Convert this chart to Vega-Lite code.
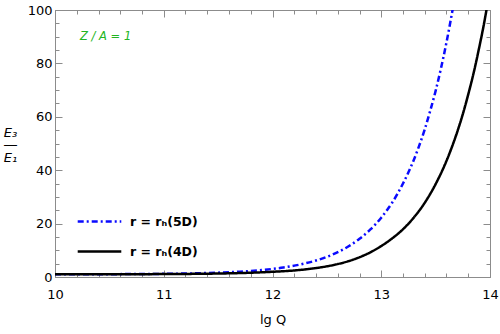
{
  "$schema": "https://vega.github.io/schema/vega-lite/v6.json",
  "width": 435,
  "height": 267,
  "autosize": {"type": "none"},
  "padding": {"left": 55, "top": 10, "right": 10, "bottom": 57},
  "config": {
    "font": "DejaVu Sans",
    "view": {"stroke": "#8c8c8c", "strokeWidth": 1},
    "axis": {"grid": false, "domainColor": "#8c8c8c", "tickColor": "#8c8c8c", "labelColor": "#000000", "labelFontSize": 13, "labelFont": "DejaVu Sans", "titleFont": "DejaVu Sans", "titleFontSize": 13, "titleFontWeight": "normal", "titleColor": "#000000", "labelFlush": false, "labelOverlap": false}
  },
  "datasets": {
    "curves": [
      {"q": 10.0, "r": 1.02, "s": "r = rₕ(5D)"},
      {"q": 10.5, "r": 1.06, "s": "r = rₕ(5D)"},
      {"q": 11.0, "r": 1.19, "s": "r = rₕ(5D)"},
      {"q": 11.3, "r": 1.39, "s": "r = rₕ(5D)"},
      {"q": 11.5, "r": 1.63, "s": "r = rₕ(5D)"},
      {"q": 11.7, "r": 2.0, "s": "r = rₕ(5D)"},
      {"q": 11.9, "r": 2.6, "s": "r = rₕ(5D)"},
      {"q": 12.1, "r": 3.56, "s": "r = rₕ(5D)"},
      {"q": 12.3, "r": 5.1, "s": "r = rₕ(5D)"},
      {"q": 12.5, "r": 7.55, "s": "r = rₕ(5D)"},
      {"q": 12.7, "r": 11.5, "s": "r = rₕ(5D)"},
      {"q": 12.8, "r": 14.3, "s": "r = rₕ(5D)"},
      {"q": 12.9, "r": 17.8, "s": "r = rₕ(5D)"},
      {"q": 13.0, "r": 22.2, "s": "r = rₕ(5D)"},
      {"q": 13.05, "r": 24.9, "s": "r = rₕ(5D)"},
      {"q": 13.1, "r": 27.8, "s": "r = rₕ(5D)"},
      {"q": 13.15, "r": 31.2, "s": "r = rₕ(5D)"},
      {"q": 13.2, "r": 35.0, "s": "r = rₕ(5D)"},
      {"q": 13.25, "r": 39.2, "s": "r = rₕ(5D)"},
      {"q": 13.3, "r": 43.9, "s": "r = rₕ(5D)"},
      {"q": 13.35, "r": 49.3, "s": "r = rₕ(5D)"},
      {"q": 13.4, "r": 55.3, "s": "r = rₕ(5D)"},
      {"q": 13.45, "r": 62.2, "s": "r = rₕ(5D)"},
      {"q": 13.5, "r": 69.7, "s": "r = rₕ(5D)"},
      {"q": 13.55, "r": 78.3, "s": "r = rₕ(5D)"},
      {"q": 13.6, "r": 87.9, "s": "r = rₕ(5D)"},
      {"q": 13.63, "r": 94.3, "s": "r = rₕ(5D)"},
      {"q": 13.66, "r": 101, "s": "r = rₕ(5D)"},
      {"q": 10.0, "r": 1.01, "s": "r = rₕ(4D)"},
      {"q": 10.5, "r": 1.03, "s": "r = rₕ(4D)"},
      {"q": 11.0, "r": 1.1, "s": "r = rₕ(4D)"},
      {"q": 11.5, "r": 1.3, "s": "r = rₕ(4D)"},
      {"q": 11.8, "r": 1.6, "s": "r = rₕ(4D)"},
      {"q": 12.0, "r": 1.95, "s": "r = rₕ(4D)"},
      {"q": 12.2, "r": 2.45, "s": "r = rₕ(4D)"},
      {"q": 12.3, "r": 2.85, "s": "r = rₕ(4D)"},
      {"q": 12.4, "r": 3.35, "s": "r = rₕ(4D)"},
      {"q": 12.5, "r": 4.0, "s": "r = rₕ(4D)"},
      {"q": 12.6, "r": 4.85, "s": "r = rₕ(4D)"},
      {"q": 12.7, "r": 5.95, "s": "r = rₕ(4D)"},
      {"q": 12.8, "r": 7.4, "s": "r = rₕ(4D)"},
      {"q": 12.9, "r": 9.25, "s": "r = rₕ(4D)"},
      {"q": 13.0, "r": 11.6, "s": "r = rₕ(4D)"},
      {"q": 13.1, "r": 14.45, "s": "r = rₕ(4D)"},
      {"q": 13.2, "r": 17.9, "s": "r = rₕ(4D)"},
      {"q": 13.3, "r": 22.3, "s": "r = rₕ(4D)"},
      {"q": 13.4, "r": 27.8, "s": "r = rₕ(4D)"},
      {"q": 13.5, "r": 34.8, "s": "r = rₕ(4D)"},
      {"q": 13.6, "r": 43.5, "s": "r = rₕ(4D)"},
      {"q": 13.65, "r": 48.7, "s": "r = rₕ(4D)"},
      {"q": 13.7, "r": 54.5, "s": "r = rₕ(4D)"},
      {"q": 13.75, "r": 61.0, "s": "r = rₕ(4D)"},
      {"q": 13.8, "r": 68.4, "s": "r = rₕ(4D)"},
      {"q": 13.85, "r": 76.5, "s": "r = rₕ(4D)"},
      {"q": 13.9, "r": 85.8, "s": "r = rₕ(4D)"},
      {"q": 13.95, "r": 96.0, "s": "r = rₕ(4D)"},
      {"q": 13.98, "r": 103, "s": "r = rₕ(4D)"}
    ],
    "notes": [
      {"q": 10.23, "r": 90, "t": "Z / A = 1"}
    ]
  },
  "layer": [
    {
      "data": {"name": "curves"},
      "mark": {"type": "line", "clip": true, "strokeWidth": 2.5, "interpolate": "monotone"},
      "encoding": {
        "x": {
          "field": "q", "type": "quantitative",
          "scale": {"domain": [10, 14], "nice": false, "zero": false},
          "axis": {
            "orient": "bottom", "title": "lg Q", "titlePadding": 9,
            "values": [10, 10.2, 10.4, 10.6, 10.8, 11, 11.2, 11.4, 11.6, 11.8, 12, 12.2, 12.4, 12.6, 12.8, 13, 13.2, 13.4, 13.6, 13.8, 14],
            "labelExpr": "abs(datum.value - round(datum.value)) < 0.001 ? format(datum.value, 'd') : ''",
            "tickSize": {"condition": {"test": "abs(datum.value - round(datum.value)) < 0.001", "value": -7}, "value": -4},
            "labelPadding": 18
          }
        },
        "y": {
          "field": "r", "type": "quantitative",
          "scale": {"domain": [0, 100], "nice": false},
          "axis": {
            "orient": "left", "title": ["E₃", "―", "E₁"], "titleAngle": 0, "titleFontStyle": "italic",
            "titleAlign": "center", "titleBaseline": "middle", "titleX": -45, "titleY": 122, "titleLineHeight": 12.5,
            "values": [0, 5, 10, 15, 20, 25, 30, 35, 40, 45, 50, 55, 60, 65, 70, 75, 80, 85, 90, 95, 100],
            "labelExpr": "datum.value % 20 === 0 ? format(datum.value, 'd') : ''",
            "tickSize": {"condition": {"test": "datum.value % 20 === 0", "value": -7}, "value": -4},
            "labelPadding": 10
          }
        },
        "color": {
          "field": "s", "type": "nominal",
          "scale": {"domain": ["r = rₕ(5D)", "r = rₕ(4D)"], "range": ["#0a0aff", "#000000"]},
          "legend": {"title": null, "orient": "none", "legendX": 21, "legendY": 188, "symbolType": "stroke", "symbolSize": 1900, "symbolStrokeWidth": 2.5, "labelFontSize": 12.5, "labelFontWeight": "bold", "labelColor": "#000000", "labelOffset": 7, "rowPadding": -19}
        },
        "strokeDash": {
          "field": "s", "type": "nominal",
          "scale": {"domain": ["r = rₕ(5D)", "r = rₕ(4D)"], "range": [[6, 3, 2, 3], [1, 0]]},
          "legend": {"title": null, "orient": "none", "legendX": 21, "legendY": 188, "symbolType": "stroke", "symbolSize": 1900, "symbolStrokeWidth": 2.5, "labelFontSize": 12.5, "labelFontWeight": "bold", "labelColor": "#000000", "labelOffset": 7, "rowPadding": -19}
        }
      }
    },
    {
      "data": {"name": "notes"},
      "mark": {"type": "text", "align": "left", "baseline": "middle", "fontSize": 11.5, "fontStyle": "italic", "color": "#22b522"},
      "encoding": {
        "x": {
          "field": "q", "type": "quantitative",
          "scale": {"domain": [10, 14], "nice": false, "zero": false},
          "axis": {
            "orient": "top", "title": null, "labels": false,
            "values": [10, 10.2, 10.4, 10.6, 10.8, 11, 11.2, 11.4, 11.6, 11.8, 12, 12.2, 12.4, 12.6, 12.8, 13, 13.2, 13.4, 13.6, 13.8, 14],
            "tickSize": {"condition": {"test": "abs(datum.value - round(datum.value)) < 0.001", "value": -7}, "value": -4}
          }
        },
        "y": {
          "field": "r", "type": "quantitative",
          "scale": {"domain": [0, 100], "nice": false},
          "axis": {
            "orient": "right", "title": null, "labels": false,
            "values": [0, 5, 10, 15, 20, 25, 30, 35, 40, 45, 50, 55, 60, 65, 70, 75, 80, 85, 90, 95, 100],
            "tickSize": {"condition": {"test": "datum.value % 20 === 0", "value": -7}, "value": -4}
          }
        },
        "text": {"field": "t"}
      }
    }
  ],
  "resolve": {"axis": {"x": "independent", "y": "independent"}}
}
